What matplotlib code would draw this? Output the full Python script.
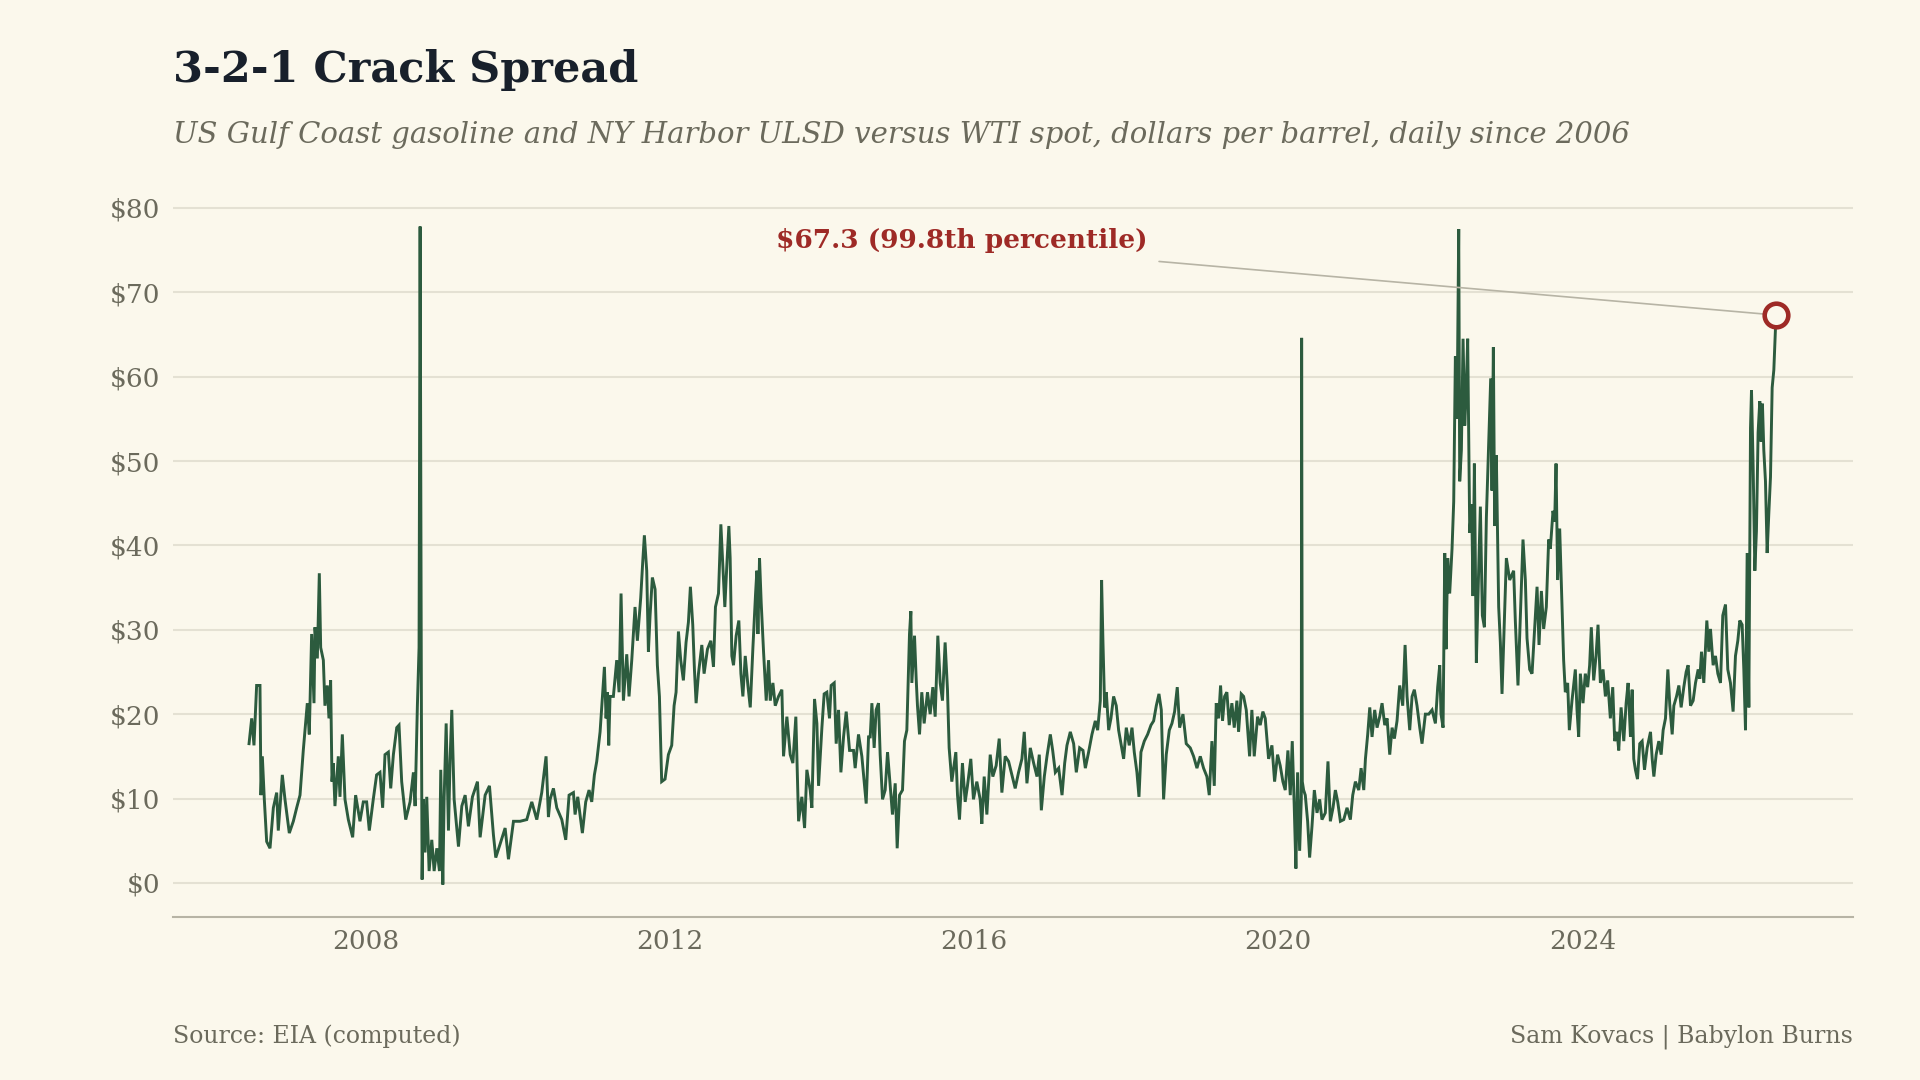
import numpy as np
import pandas as pd
import matplotlib
matplotlib.use("Agg")
import matplotlib.pyplot as plt
import matplotlib.dates as mdates

# 3-2-1 crack spread, $/bbl (decimal year, value)
years = [
    2006.461, 2006.496, 2006.526, 2006.561, 2006.605, 2006.618, 2006.636, 2006.662, 2006.693, 2006.737,
    2006.781, 2006.825, 2006.846, 2006.899, 2006.934, 2006.991, 2007.044, 2007.088, 2007.132, 2007.175,
    2007.228, 2007.254, 2007.285, 2007.316, 2007.329, 2007.360, 2007.386, 2007.404, 2007.439, 2007.460,
    2007.491, 2007.513, 2007.535, 2007.553, 2007.570, 2007.592, 2007.636, 2007.658, 2007.689, 2007.724,
    2007.768, 2007.825, 2007.864, 2007.921, 2007.965, 2008.009, 2008.044, 2008.096, 2008.140, 2008.184,
    2008.219, 2008.250, 2008.294, 2008.325, 2008.360, 2008.404, 2008.434, 2008.469, 2008.522, 2008.579,
    2008.623, 2008.645, 2008.675, 2008.697, 2008.711, 2008.728, 2008.737, 2008.754, 2008.776, 2008.798,
    2008.829, 2008.864, 2008.895, 2008.930, 2008.965, 2008.982, 2009.009, 2009.026, 2009.053, 2009.083,
    2009.105, 2009.127, 2009.158, 2009.215, 2009.259, 2009.303, 2009.346, 2009.399, 2009.465, 2009.500,
    2009.566, 2009.623, 2009.675, 2009.706, 2009.763, 2009.829, 2009.873, 2009.939, 2010.026, 2010.114,
    2010.180, 2010.246, 2010.311, 2010.368, 2010.399,
    2010.421, 2010.465, 2010.509, 2010.575, 2010.627, 2010.671, 2010.728, 2010.750, 2010.785, 2010.846,
    2010.890, 2010.934, 2010.969, 2011.004, 2011.035, 2011.079, 2011.114, 2011.136, 2011.158, 2011.175,
    2011.193, 2011.210, 2011.254, 2011.298, 2011.329, 2011.355, 2011.386, 2011.430, 2011.460, 2011.496,
    2011.539, 2011.570, 2011.614, 2011.640, 2011.662, 2011.693, 2011.715, 2011.737, 2011.767, 2011.803,
    2011.833, 2011.860, 2011.890, 2011.934, 2011.978, 2012.022, 2012.053, 2012.079, 2012.110, 2012.140,
    2012.175, 2012.210, 2012.241, 2012.267, 2012.298, 2012.320, 2012.342, 2012.373, 2012.417, 2012.447,
    2012.491, 2012.535, 2012.570, 2012.596, 2012.636, 2012.667, 2012.693, 2012.719, 2012.750, 2012.772,
    2012.789, 2012.811, 2012.833, 2012.868, 2012.903, 2012.930, 2012.956, 2012.987, 2013.022, 2013.053,
    2013.088, 2013.123, 2013.140, 2013.154, 2013.175, 2013.197, 2013.228, 2013.263, 2013.294, 2013.316,
    2013.351, 2013.382, 2013.425, 2013.469, 2013.491, 2013.535, 2013.579, 2013.614, 2013.653, 2013.689,
    2013.732, 2013.768, 2013.798, 2013.842, 2013.864, 2013.899, 2013.930, 2013.952, 2013.996, 2014.026,
    2014.061, 2014.096, 2014.118, 2014.158, 2014.184, 2014.215, 2014.246, 2014.281, 2014.316, 2014.360,
    2014.412, 2014.434, 2014.478, 2014.522, 2014.553, 2014.579, 2014.610,
    2014.632, 2014.654, 2014.684, 2014.710, 2014.741, 2014.763, 2014.794, 2014.829, 2014.860, 2014.895,
    2014.925, 2014.961, 2014.987, 2015.018, 2015.057, 2015.083, 2015.114, 2015.149, 2015.167, 2015.180,
    2015.215, 2015.237, 2015.254, 2015.281, 2015.311, 2015.342, 2015.386, 2015.421, 2015.456, 2015.487,
    2015.522, 2015.553, 2015.583, 2015.618, 2015.649, 2015.671, 2015.706, 2015.759, 2015.781, 2015.807,
    2015.846, 2015.882, 2015.912, 2015.956, 2015.991, 2016.035, 2016.079, 2016.101, 2016.132, 2016.167,
    2016.211, 2016.245, 2016.289, 2016.329, 2016.364, 2016.408, 2016.452, 2016.496, 2016.539, 2016.583,
    2016.627, 2016.658, 2016.693, 2016.737, 2016.781, 2016.825, 2016.855, 2016.882, 2016.921, 2016.956,
    2017.000, 2017.031, 2017.066, 2017.110, 2017.154, 2017.189, 2017.219, 2017.263, 2017.307, 2017.342,
    2017.386, 2017.430, 2017.461, 2017.504, 2017.548, 2017.592, 2017.623, 2017.658, 2017.675, 2017.693,
    2017.715, 2017.737, 2017.768, 2017.798, 2017.833, 2017.868, 2017.899, 2017.930, 2017.965, 2018.000,
    2018.039, 2018.075, 2018.105, 2018.140, 2018.167, 2018.193, 2018.237, 2018.281, 2018.325, 2018.360,
    2018.395, 2018.430, 2018.461, 2018.491, 2018.526, 2018.566, 2018.601, 2018.636, 2018.671, 2018.702,
    2018.746, 2018.789,
    2018.842, 2018.886, 2018.930, 2018.974, 2019.017, 2019.061, 2019.092, 2019.127, 2019.158, 2019.184,
    2019.215, 2019.241, 2019.267, 2019.294, 2019.324, 2019.355, 2019.390, 2019.421, 2019.456, 2019.478,
    2019.513, 2019.544, 2019.579, 2019.623, 2019.653, 2019.684, 2019.728, 2019.763, 2019.798, 2019.829,
    2019.873, 2019.917, 2019.952, 2019.991, 2020.026, 2020.061, 2020.092, 2020.127, 2020.158, 2020.184,
    2020.210, 2020.232, 2020.254, 2020.281, 2020.303, 2020.307, 2020.316, 2020.333, 2020.355, 2020.386,
    2020.412, 2020.443, 2020.474, 2020.509, 2020.544, 2020.574, 2020.618, 2020.653, 2020.684, 2020.719,
    2020.750, 2020.781, 2020.816, 2020.860, 2020.903, 2020.947, 2020.978, 2021.013, 2021.057, 2021.088,
    2021.123, 2021.145, 2021.175, 2021.202, 2021.232, 2021.267, 2021.298, 2021.333, 2021.364, 2021.399,
    2021.430, 2021.465, 2021.496, 2021.526, 2021.561, 2021.596, 2021.636, 2021.667, 2021.693, 2021.728,
    2021.759, 2021.789, 2021.824, 2021.860, 2021.890, 2021.934, 2021.978, 2022.022, 2022.066, 2022.096,
    2022.123, 2022.140, 2022.167, 2022.189, 2022.206, 2022.228, 2022.254, 2022.285, 2022.307, 2022.329,
    2022.351, 2022.373, 2022.386, 2022.408, 2022.430, 2022.452, 2022.469, 2022.491, 2022.518, 2022.544,
    2022.561, 2022.579, 2022.605, 2022.632, 2022.658, 2022.684, 2022.711, 2022.737, 2022.768, 2022.794,
    2022.811, 2022.829, 2022.846, 2022.868, 2022.899, 2022.921, 2022.943, 2022.965, 2023.000, 2023.044,
    2023.096, 2023.118, 2023.153, 2023.184, 2023.219, 2023.250, 2023.272, 2023.307, 2023.338, 2023.368,
    2023.404, 2023.430, 2023.461, 2023.491, 2023.526, 2023.557, 2023.579, 2023.614, 2023.636, 2023.654,
    2023.675, 2023.702, 2023.724, 2023.754, 2023.776, 2023.807, 2023.829, 2023.864, 2023.908, 2023.930,
    2023.952, 2023.974, 2024.009, 2024.039, 2024.070, 2024.096, 2024.118, 2024.149, 2024.180, 2024.206,
    2024.237, 2024.272, 2024.303, 2024.333, 2024.368, 2024.399, 2024.425, 2024.456, 2024.478, 2024.509,
    2024.544, 2024.575, 2024.601, 2024.632, 2024.654, 2024.675, 2024.697, 2024.724, 2024.754, 2024.785,
    2024.816, 2024.851, 2024.895, 2024.917, 2024.939, 2024.969, 2025.004, 2025.035, 2025.061, 2025.092,
    2025.123, 2025.149, 2025.180, 2025.202, 2025.237, 2025.268, 2025.298, 2025.333, 2025.364, 2025.390,
    2025.421, 2025.456, 2025.487, 2025.522, 2025.544, 2025.566, 2025.596, 2025.636, 2025.662, 2025.684,
    2025.719, 2025.750, 2025.781, 2025.816, 2025.846, 2025.882, 2025.912, 2025.947, 2025.982, 2026.013,
    2026.044, 2026.070, 2026.101, 2026.123, 2026.145, 2026.167, 2026.189, 2026.211, 2026.224, 2026.246,
    2026.268, 2026.289, 2026.311, 2026.333, 2026.351, 2026.368, 2026.386, 2026.408, 2026.430, 2026.452,
    2026.474, 2026.496, 2026.518, 2026.539, 2026.553,
]
spread = [
    16.5, 19.5, 16.3, 23.4, 23.4, 10.4, 15.0, 9.9, 4.9, 4.1,
    8.9, 10.7, 6.2, 12.8, 9.9, 5.9, 7.3, 8.9, 10.4, 15.7,
    21.3, 17.6, 29.5, 21.3, 30.3, 26.6, 36.7, 27.9, 26.4, 21.0,
    23.4, 19.5, 24.0, 12.0, 14.2, 9.1, 15.0, 10.2, 17.6, 9.9,
    7.5, 5.4, 10.4, 7.3, 9.6, 9.6, 6.2, 9.9, 12.8, 13.1,
    8.9, 15.2, 15.5, 11.2, 15.2, 18.4, 18.7, 12.0, 7.5, 9.6,
    13.1, 9.1, 21.0, 27.9, 77.8, 20.0, 0.4, 9.9, 3.6, 10.2,
    1.4, 5.1, 1.4, 4.1, 1.4, 13.4, -0.2, 9.9, 18.9, 6.2,
    14.7, 20.5, 9.9, 4.3, 9.1, 10.4, 6.7, 10.2, 12.0, 5.4,
    10.4, 11.5, 5.7, 3.0, 4.6, 6.5, 2.8, 7.3, 7.3, 7.5,
    9.6, 7.5, 10.7, 15.0, 7.8,
    9.9, 11.2, 8.9, 7.5, 5.1, 10.4, 10.7, 8.1, 10.2, 5.9,
    9.6, 11.0, 9.6, 12.8, 14.4, 17.9, 22.6, 25.6, 19.5, 22.6,
    16.3, 22.1, 22.1, 26.4, 22.6, 34.3, 21.6, 27.1, 22.1, 26.4,
    32.7, 28.7, 33.8, 38.0, 41.2, 37.0, 27.4, 31.7, 36.2, 34.8,
    25.8, 22.1, 12.0, 12.3, 15.2, 16.3, 21.0, 22.6, 29.8, 26.4,
    24.0, 28.5, 30.9, 35.1, 30.6, 25.3, 21.3, 24.8, 28.2, 24.8,
    27.7, 28.7, 25.6, 32.7, 34.3, 42.5, 37.5, 32.7, 38.5, 42.3,
    38.5, 26.9, 25.8, 29.3, 31.1, 24.8, 22.1, 26.9, 23.4, 20.8,
    27.9, 34.3, 37.0, 29.5, 38.5, 33.2, 27.4, 21.6, 26.4, 21.6,
    23.7, 21.0, 22.1, 22.9, 15.0, 19.7, 15.2, 14.2, 19.7, 7.3,
    10.2, 6.5, 13.4, 11.0, 8.9, 21.8, 18.9, 11.5, 18.4, 22.4,
    22.6, 19.5, 23.4, 23.7, 16.5, 20.5, 13.1, 17.3, 20.3, 15.7,
    15.7, 13.6, 17.6, 15.0, 12.0, 9.4, 17.3,
    17.3, 21.3, 16.0, 20.5, 21.3, 15.2, 9.9, 11.0, 15.5, 11.5,
    8.1, 11.8, 4.1, 10.4, 11.0, 16.8, 18.1, 29.5, 32.2, 23.7,
    29.3, 24.2, 21.0, 17.6, 22.6, 18.9, 22.6, 20.0, 23.2, 19.7,
    29.3, 23.7, 21.6, 28.5, 22.9, 16.0, 12.0, 15.5, 10.4, 7.5,
    14.2, 9.6, 11.5, 14.7, 9.9, 12.0, 9.9, 7.0, 12.6, 8.1,
    15.2, 12.6, 13.9, 17.1, 10.7, 15.0, 14.4, 12.8, 11.2, 13.1,
    14.7, 17.9, 11.8, 16.0, 14.2, 12.6, 15.2, 8.6, 12.6, 15.0,
    17.6, 15.7, 13.1, 13.6, 10.4, 14.2, 16.3, 17.9, 16.5, 13.1,
    16.0, 15.7, 13.6, 15.5, 17.6, 19.2, 18.1, 21.6, 35.9, 28.5,
    20.8, 22.6, 18.1, 19.5, 22.1, 21.0, 18.1, 16.5, 14.7, 18.4,
    16.3, 18.4, 15.5, 13.1, 10.2, 15.5, 16.8, 17.6, 18.7, 19.2,
    21.0, 22.4, 20.5, 9.9, 15.2, 18.1, 18.9, 20.3, 23.2, 18.4,
    20.0, 16.5,
    16.0, 15.0, 13.6, 15.0, 13.6, 12.6, 10.4, 16.8, 11.5, 21.3,
    19.5, 23.4, 19.2, 22.1, 22.6, 18.7, 21.3, 18.4, 21.6, 17.9,
    22.4, 22.1, 20.5, 15.0, 20.5, 15.0, 19.7, 18.7, 20.3, 19.5,
    14.7, 16.3, 12.0, 15.2, 13.9, 12.0, 11.0, 15.7, 10.4, 16.8,
    9.1, 1.7, 13.1, 3.8, 10.0, 64.6, 12.0, 11.0, 10.4, 7.3,
    3.0, 6.7, 11.0, 8.3, 9.9, 7.5, 8.3, 14.4, 7.3, 8.9,
    11.0, 9.6, 7.3, 7.5, 8.9, 7.5, 10.4, 12.0, 11.0, 13.6,
    11.0, 14.7, 17.6, 20.8, 17.3, 20.5, 18.4, 19.7, 21.3, 18.7,
    19.5, 15.2, 18.4, 17.1, 19.2, 23.4, 21.0, 28.2, 22.1, 18.1,
    22.1, 22.9, 21.0, 18.4, 16.5, 20.0, 20.0, 20.5, 18.9, 23.2,
    25.8, 20.0, 18.4, 39.1, 27.7, 38.5, 34.3, 39.6, 45.2, 62.4,
    55.0, 77.5, 47.6, 51.3, 64.5, 54.2, 57.6, 64.5, 41.5, 44.9,
    34.0, 49.7, 26.1, 35.9, 44.6, 31.7, 30.3, 43.3, 52.1, 59.8,
    46.5, 63.5, 42.3, 50.7, 32.7, 28.5, 22.4, 28.7, 38.5, 35.9,
    37.0, 31.1, 23.4, 31.7, 40.7, 35.9, 29.0, 25.3, 24.8, 29.5,
    35.1, 28.2, 34.6, 30.1, 32.7, 40.7, 39.6, 44.1, 42.8, 49.7,
    35.9, 42.0, 35.4, 26.4, 22.6, 23.7, 18.1, 21.6, 25.3, 20.5,
    17.3, 24.8, 21.3, 24.8, 23.2, 25.8, 30.3, 24.0, 26.9, 30.6,
    23.7, 25.3, 22.1, 24.0, 19.5, 23.2, 16.8, 17.9, 15.7, 20.8,
    16.8, 21.3, 23.7, 17.3, 22.9, 14.7, 13.4, 12.3, 16.5, 16.8,
    13.4, 16.0, 17.9, 14.7, 12.6, 15.2, 16.8, 15.2, 18.1, 19.5,
    25.3, 21.0, 17.6, 21.0, 22.1, 23.4, 20.8, 23.2, 25.0, 25.8,
    21.0, 21.6, 23.7, 25.3, 24.2, 27.4, 23.7, 31.1, 27.4, 30.1,
    25.8, 26.9, 24.8, 23.7, 31.7, 33.0, 25.3, 23.7, 20.3, 26.9,
    28.7, 31.1, 30.6, 25.3, 18.1, 39.1, 20.8, 53.9, 58.4, 49.2,
    37.0, 41.7, 53.4, 57.1, 52.3, 56.8, 51.3, 47.6, 39.1, 43.8,
    48.1, 58.7, 60.8, 65.6, 67.3,
]
latest_label = "$67.3 (99.8th percentile)"
y_ticks = [0, 10, 20, 30, 40, 50, 60, 70, 80]

title = "3-2-1 Crack Spread"
subtitle = ("US Gulf Coast gasoline and NY Harbor ULSD versus WTI spot, "
            "dollars per barrel, daily since 2006")
source = "Source: EIA (computed)"
credit = "Sam Kovacs | Babylon Burns"

BG = "#fbf8ec"
GREEN = "#2c5b3e"
RED = "#9e2a26"
INK = "#18202b"
GREY = "#6b6a5c"
GRID = "#e4e1d3"
SPINE = "#b7b4a5"


def to_date(y):
    yr = int(np.floor(y))
    start = pd.Timestamp(yr, 1, 1)
    end = pd.Timestamp(yr + 1, 1, 1)
    return start + (end - start) * (y - yr)


dates = [to_date(y) for y in years]

plt.rcParams["font.family"] = ["DejaVu Serif"]

fig = plt.figure(figsize=(19.2, 10.8), dpi=100, facecolor=BG)
ax = fig.add_axes([0.0901, 0.1505, 0.875, 0.671])
ax.set_facecolor(BG)

ax.plot(dates, spread, color=GREEN, lw=2.1, solid_joinstyle="miter", zorder=3)

# latest value marker + callout
ax.plot(dates[-1], spread[-1], "o", ms=17, mfc=BG, mec=RED, mew=3.3, zorder=5)
ax.annotate(latest_label, xy=(dates[-1], spread[-1]),
            xytext=(1148, 1080 - 248), textcoords="figure pixels",
            ha="right", va="baseline", fontsize=19, fontweight="bold", color=RED,
            arrowprops=dict(arrowstyle="-", color=SPINE, lw=1.2,
                            relpos=(1, -0.3), shrinkA=8, shrinkB=9))

ax.set_xlim(to_date(2005.46), to_date(2027.56))
ax.set_ylim(-4.1, 81.8)

ax.set_yticks(y_ticks)
ax.set_yticklabels([f"${v}" for v in y_ticks])
ax.xaxis.set_major_locator(mdates.YearLocator(4))
ax.xaxis.set_major_formatter(mdates.DateFormatter("%Y"))

ax.grid(axis="y", color=GRID, lw=1.5, zorder=0)
ax.set_axisbelow(True)
for s in ["top", "right", "left"]:
    ax.spines[s].set_visible(False)
ax.spines["bottom"].set_color(SPINE)
ax.spines["bottom"].set_linewidth(1.5)
ax.tick_params(axis="both", length=0, labelsize=19, labelcolor=GREY)
ax.tick_params(axis="y", pad=9)
ax.tick_params(axis="x", pad=8)

fig.text(0.0901, 1 - 81.7 / 1080, title, fontsize=31, fontweight="bold",
         color=INK, va="baseline", ha="left")
fig.text(0.0901, 1 - 143.3 / 1080, subtitle, fontsize=21, style="italic",
         color=GREY, va="baseline", ha="left")
fig.text(0.0901, 1 - 1042.5 / 1080, source, fontsize=17, color=GREY,
         va="baseline", ha="left")
fig.text(0.9651, 1 - 1042.5 / 1080, credit, fontsize=17, color=GREY,
         va="baseline", ha="right")

fig.savefig("out.png", dpi=100, facecolor=BG)
